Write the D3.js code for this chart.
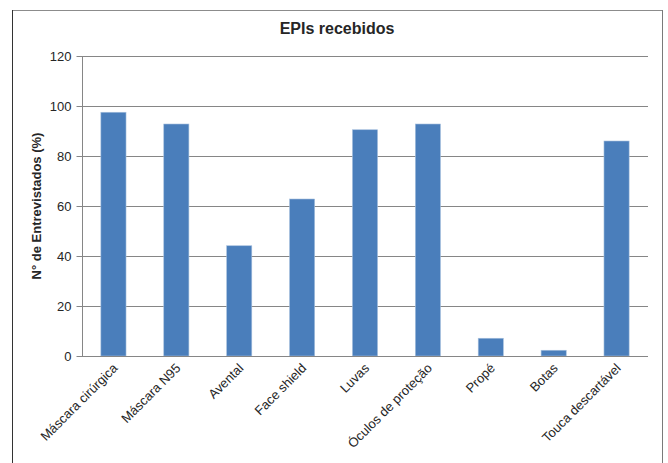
<!DOCTYPE html>
<html><head><meta charset="utf-8">
<script src="https://cdn.jsdelivr.net/npm/d3@7"></script>
<style>body{margin:0;background:#fff}svg{display:block;font-family:"Liberation Sans",Arial,sans-serif}</style>
</head><body><svg id="c" width="668" height="463"></svg>
<script>
const categories = ["Máscara cirúrgica","Máscara N95","Avental","Face shield","Luvas","Óculos de proteção","Propé","Botas","Touca descartável"];
const values = [97.5, 92.8, 44.1, 62.8, 90.5, 92.8, 7.1, 2.3, 86.0];
const yTicks = [0, 20, 40, 60, 80, 100, 120];
const title = "EPIs recebidos";
const yLabel = "N° de Entrevistados (%)";

const svg = d3.select("#c");
const L = 82, R = 648, T = 56, B = 356;
// chart border
svg.append("line").attr("x1",12).attr("x2",663).attr("y1",10.5).attr("y2",10.5).attr("stroke","#8c8c8c");
svg.append("line").attr("x1",12.5).attr("x2",12.5).attr("y1",10).attr("y2",463).attr("stroke","#333333");
svg.append("line").attr("x1",662.5).attr("x2",662.5).attr("y1",10).attr("y2",463).attr("stroke","#7a7a7a");

const x = d3.scaleBand().domain(categories).range([L,R]).paddingInner(0.6).paddingOuter(0.3);
const y = d3.scaleLinear().domain([0,120]).range([B,T]);

// gridlines
svg.append("g").selectAll("line").data(yTicks.filter(d=>d>0)).join("line")
  .attr("x1",L).attr("x2",R).attr("y1",d=>Math.round(y(d))+0.5).attr("y2",d=>Math.round(y(d))+0.5)
  .attr("stroke","#868686").attr("stroke-width",1);

// bars
svg.append("g").selectAll("rect").data(values).join("rect")
  .attr("x",(d,i)=>x(categories[i])).attr("width",x.bandwidth())
  .attr("y",d=>y(d)).attr("height",d=>y(0)-y(d))
  .attr("fill","#4a7ebb").attr("stroke","#a7c0de").attr("stroke-width",0.6);

// y axis
const ya = svg.append("g").attr("transform",`translate(${L+0.5},0)`)
  .call(d3.axisLeft(y).tickValues(yTicks).tickSize(6).tickPadding(5));
ya.select(".domain").attr("stroke","#868686").attr("d",`M0,${T}V${B}`);
ya.selectAll(".tick line").attr("stroke","#868686");
ya.selectAll(".tick text").attr("font-size",13).attr("fill","#262626").attr("font-family","Liberation Sans, Arial, sans-serif");

// x axis baseline
svg.append("line").attr("x1",L).attr("x2",R).attr("y1",B+0.5).attr("y2",B+0.5).attr("stroke","#868686");

// x labels
svg.append("g").selectAll("text").data(categories).join("text")
  .attr("transform",d=>`translate(${x(d)+x.bandwidth()/2+5},${B+13}) rotate(-45)`)
  .attr("text-anchor","end").attr("font-size",13).attr("fill","#262626")
  .text(d=>d);

// title
svg.append("text").attr("x",337).attr("y",34).attr("text-anchor","middle")
  .attr("font-size",16).attr("font-weight","bold").attr("fill","#262626").text(title);

// y label
svg.append("text").attr("transform",`translate(41,${(T+B)/2}) rotate(-90)`)
  .attr("text-anchor","middle").attr("font-size",13).attr("font-weight","bold").attr("fill","#262626").text(yLabel);
</script></body></html>
